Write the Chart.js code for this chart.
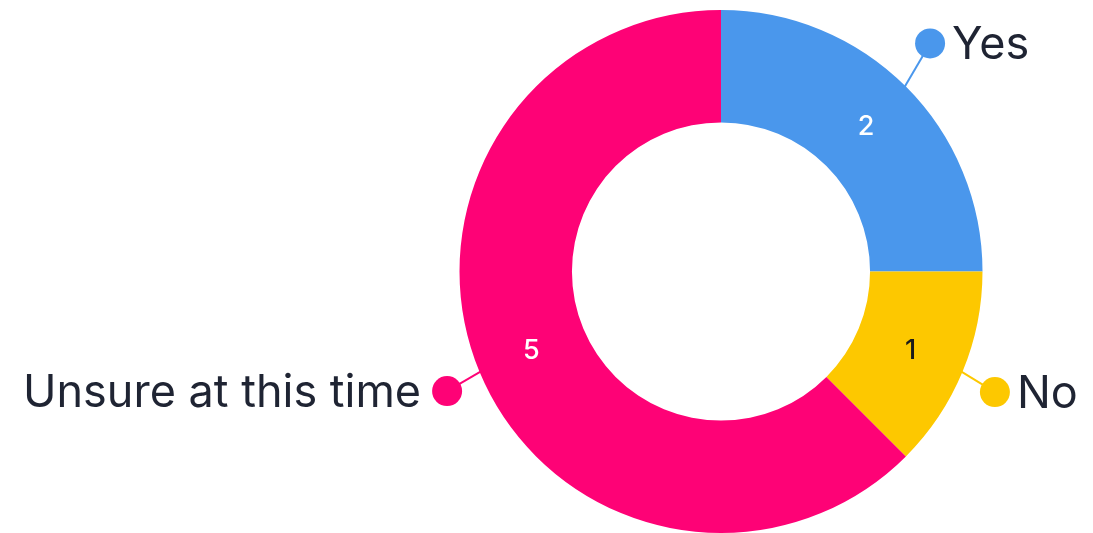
<!DOCTYPE html>
<html>
<head>
<meta charset="utf-8">
<script src="https://cdn.jsdelivr.net/npm/chart.js@4"></script>
<style>
  html, body { margin: 0; padding: 0; background: #fff; }
  #wrap { width: 1093px; height: 533px; }
</style>
</head>
<body>
<div id="wrap"><canvas id="donut"></canvas></div>
<script>
const categories = ["Yes", "No", "Unsure at this time"];
const counts = [2, 1, 5];
const colors = ["#4a97ec", "#fdc800", "#fe0276"];
const valueColors = ["#ffffff", "#1b1b1b", "#ffffff"];

// callout offsets (dot position relative to outer arc midpoint), and label side
const callouts = [
  { dx: 27, dy: -46, side: "right" },
  { dx: 36, dy: 22, side: "right" },
  { dx: -36, dy: 21, side: "left" },
];

const calloutPlugin = {
  id: "callouts",
  afterDatasetsDraw(chart) {
    const { ctx } = chart;
    const meta = chart.getDatasetMeta(0);
    meta.data.forEach((arc, i) => {
      const { x, y, startAngle, endAngle, innerRadius, outerRadius } = arc.getProps(
        ["x", "y", "startAngle", "endAngle", "innerRadius", "outerRadius"], true);
      const mid = (startAngle + endAngle) / 2;

      // value inside the ring
      const r = (innerRadius + outerRadius) / 2;
      ctx.save();
      ctx.fillStyle = valueColors[i];
      ctx.font = "500 27px Inter, 'Noto Sans', sans-serif";
      ctx.textAlign = "center";
      ctx.textBaseline = "middle";
      ctx.fillText(String(counts[i]), x + Math.cos(mid) * r, y + Math.sin(mid) * r + 1);

      // leader line + dot + category label
      const ax = x + Math.cos(mid) * (outerRadius - 4);
      const ay = y + Math.sin(mid) * (outerRadius - 4);
      const c = callouts[i];
      const dotX = ax + c.dx, dotY = ay + c.dy;
      ctx.strokeStyle = colors[i];
      ctx.lineWidth = 2;
      ctx.beginPath();
      ctx.moveTo(ax, ay);
      ctx.lineTo(dotX, dotY);
      ctx.stroke();
      ctx.fillStyle = colors[i];
      ctx.beginPath();
      ctx.arc(dotX, dotY, 15, 0, Math.PI * 2);
      ctx.fill();

      ctx.fillStyle = "#1f2433";
      ctx.font = "45px Inter, 'Noto Sans', sans-serif";
      ctx.textBaseline = "middle";
      if (c.side === "right") {
        ctx.textAlign = "left";
        ctx.fillText(categories[i], dotX + 22, dotY + 2);
      } else {
        ctx.textAlign = "right";
        ctx.fillText(categories[i], dotX - 26, dotY + 2);
      }
      ctx.restore();
    });
  },
};

new Chart(document.getElementById("donut"), {
  type: "doughnut",
  data: {
    labels: categories,
    datasets: [{ data: counts, backgroundColor: colors, borderWidth: 0 }],
  },
  options: {
    responsive: true,
    maintainAspectRatio: false,
    animation: false,
    cutout: "57%",
    layout: { padding: { left: 400, right: 51, top: 10, bottom: 0 } },
    plugins: { legend: { display: false }, tooltip: { enabled: false } },
  },
  plugins: [calloutPlugin],
});
</script>
</body>
</html>
